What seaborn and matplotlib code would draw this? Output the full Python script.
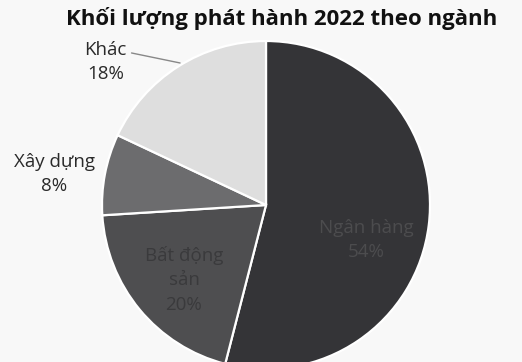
import matplotlib
matplotlib.use("Agg")
import matplotlib.pyplot as plt
import seaborn as sns

# ---- data ----
categories = ["Ngân hàng", "Bất động\nsản", "Xây dựng", "Khác"]
values = [54, 20, 8, 18]
colors = ["#343437", "#4e4e50", "#6c6c6e", "#dedede"]
label_colors = ["#4c4c4e", "#3a3a3c", "#2a2a2a", "#2a2a2a"]
title = "Khối lượng phát hành 2022 theo ngành"

sns.set_theme(style="white")
plt.rcParams["font.family"] = ["Open Sans", "DejaVu Sans"]

W, H = 522, 362
fig = plt.figure(figsize=(W / 100, H / 100), dpi=100)
fig.patch.set_facecolor("#f8f8f8")

cx, cy, r = 266, 205, 164
ax = fig.add_axes([(cx - r) / W, (H - cy - r) / H, 2 * r / W, 2 * r / H])
wedges, _ = ax.pie(values, colors=colors, startangle=90, counterclock=False,
                   wedgeprops=dict(edgecolor="white", linewidth=1.6))
ax.set_xlim(-1, 1)
ax.set_ylim(-1, 1)
ax.set_aspect("auto")
ax.axis("off")

# label positions (data units of the pie axes)
pos = [(0.61, -0.213), (-0.50, -0.457), (-1.29, 0.19), (-0.98, 0.87)]
for (x, y), cat, v, c in zip(pos, categories, values, label_colors):
    ax.text(x, y, f"{cat}\n{v}%", ha="center", va="center", fontsize=13.5,
            color=c, linespacing=1.45, clip_on=False)

# leader line for "Khác"
ax.plot([-0.82, -0.524], [0.927, 0.866], color="#888888", lw=1.0, clip_on=False)

fig.text(0.54, 0.948, title, ha="center", va="center", fontsize=16,
         fontweight="bold", color="#111111")

fig.savefig("out.png", dpi=100, facecolor=fig.get_facecolor())
